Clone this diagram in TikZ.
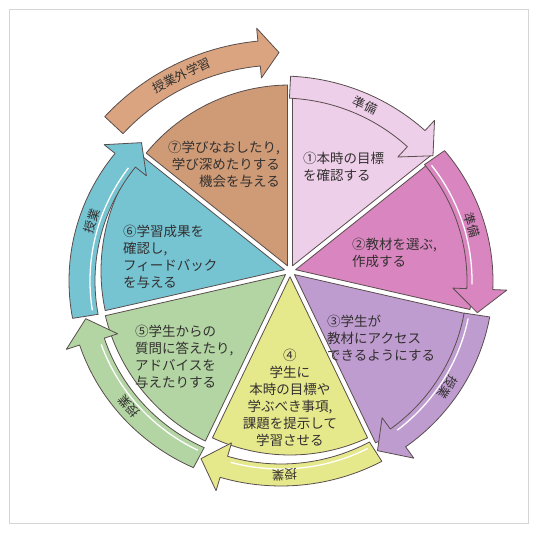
\documentclass[tikz,border=0pt]{standalone}
\usepackage{fontspec}
\newfontfamily\jpfont{Noto Sans CJK JP}
\definecolor{cA}{HTML}{EECFE9}
\definecolor{cB}{HTML}{D985BF}
\definecolor{cC}{HTML}{BF9CD0}
\definecolor{cD}{HTML}{E6E88C}
\definecolor{cE}{HTML}{B3D5A3}
\definecolor{cF}{HTML}{76C3D2}
\definecolor{cG}{HTML}{CE9B76}
\definecolor{cH}{HTML}{D9A47F}
\definecolor{edge}{HTML}{5A4D4D}
\definecolor{ink}{HTML}{333030}
\definecolor{framec}{HTML}{D5D5D5}

\newcommand\mySector[4]{%
  \pgfmathsetmacro\wMid{(#1+#2)/2}%
  \pgfmathsetmacro\wDa{#1-asin(2.5/#3)}%
  \pgfmathsetmacro\wDb{#2+asin(2.5/#3)}%
  \filldraw[fill=#4, draw=edge, line width=0.8pt, line join=round]
    (\wMid:5.76) -- (\wDa:#3) arc[start angle=\wDa, end angle=\wDb, radius=#3] -- cycle;
}
\newcommand\myArrow[4]{%
  \filldraw[fill=#1, draw=edge, line width=0.8pt, line join=round]
    (#2:212 and 205) arc[start angle=#2, end angle=#3, x radius=212, y radius=205]
    -- (#3:226 and 219) -- (#4:199 and 194) -- (#3:172 and 169) -- (#3:186 and 183)
    arc[start angle=#3, end angle=#2, x radius=186, y radius=183] -- cycle;
}
\newcommand\myStripe[2]{%
  \draw[white, line width=1.3pt] (#1:191 and 188) arc[start angle=#1, end angle=#2, x radius=191, y radius=188];
}

\tikzset{
  wtxt/.style={font=\jpfont\fontsize{13.5}{17}\selectfont, text=ink, inner sep=0pt},
  arlbl/.style={font=\jpfont\fontsize{12.5}{13}\selectfont, text=ink, inner sep=0pt}
}

\begin{document}
\begin{tikzpicture}[x=1pt,y=1pt]
\useasboundingbox (-290,-263) rectangle (249,271);
\fill[white] (-290,-263) rectangle (249,271);
\draw[framec, line width=1pt] (-280,-253) rectangle (239,261);

% wedges
\mySector{90}{38.571}{182}{cA}
\mySector{38.571}{-12.857}{184}{cB}
\mySector{-12.857}{-64.286}{192}{cC}
\mySector{-64.286}{-115.714}{184}{cD}
\mySector{-115.714}{-167.143}{190}{cE}
\mySector{-167.143}{-218.571}{189}{cF}
\mySector{-218.571}{-270}{186}{cG}

\begin{scope}[shift={(-9,-10)}]
  % ring arrows
  \myArrow{cA}{87.4}{47.2}{40.2}
  \myArrow{cB}{39.5}{-2.4}{-9.4}
  \myStripe{38}{-1.0}
  \myArrow{cC}{-10.1}{-54.0}{-61.0}
  \myStripe{-11.5}{-52.5}
  \myArrow{cD}{-61.6}{-106.7}{-113.7}
  \myStripe{-63}{-105.3}
  \myArrow{cE}{-114.4}{-161.8}{-168.8}
  \myStripe{-115.8}{-160.3}
  \myArrow{cF}{-169.5}{-218.5}{-225.5}
  \myStripe{-171}{-217}
  % outer arrow
  \filldraw[fill=cH, draw=edge, line width=0.8pt, line join=round]
    (137:241) arc[start angle=137, end angle=95.5, radius=241]
    -- (95.5:254) -- (90.5:228.5) -- (95.5:204) -- (95.5:216)
    arc[start angle=95.5, end angle=137, radius=216] -- cycle;
  % arrow labels
  \node[arlbl, rotate=25.8] (lOut) at (115.8:228.5) {授業外学習};
  \node[arlbl, rotate=-25] (l1) at (65:199 and 194) {準備};
  \node[arlbl, rotate=-73.3] (l2) at (16.7:199 and 194) {準備};
  \node[arlbl, rotate=-123.3] (l3) at (-33.3:199 and 194) {授業};
  \node[arlbl, rotate=-179] (l4) at (-89:199 and 194) {授業};
  \node[arlbl, rotate=130.3] (l5) at (-139.7:199 and 194) {授業};
  \node[arlbl, rotate=72] (l6) at (162:199 and 194) {授業};
\end{scope}

% wedge texts
\node[wtxt, anchor=west, align=left] (w1) at (13,104.5) {①本時の目標\\を確認する};
\node[wtxt, anchor=west, align=left] (w2) at (62,18.5) {②教材を選ぶ,\\作成する};
\node[wtxt, anchor=west, align=left] (w3) at (37,-67.5) {③学生が\\教材にアクセス\\できるようにする};
\node[wtxt, align=center] (w4) at (0,-126.5) {④\\学生に\\本時の目標や\\学ぶべき事項,\\課題を提示して\\学習させる};
\node[wtxt, anchor=west, align=left] (w5) at (-155,-86) {⑤学生からの\\質問に答えたり,\\アドバイスを\\与えたりする};
\node[wtxt, anchor=west, align=left] (w6) at (-167,14) {⑥学習成果を\\確認し,\\フィードバック\\を与える};
\node[wtxt, anchor=east, align=right] (w7) at (-10,107) {⑦学びなおしたり,\\学び深めたりする\\機会を与える};
\end{tikzpicture}
\end{document}
